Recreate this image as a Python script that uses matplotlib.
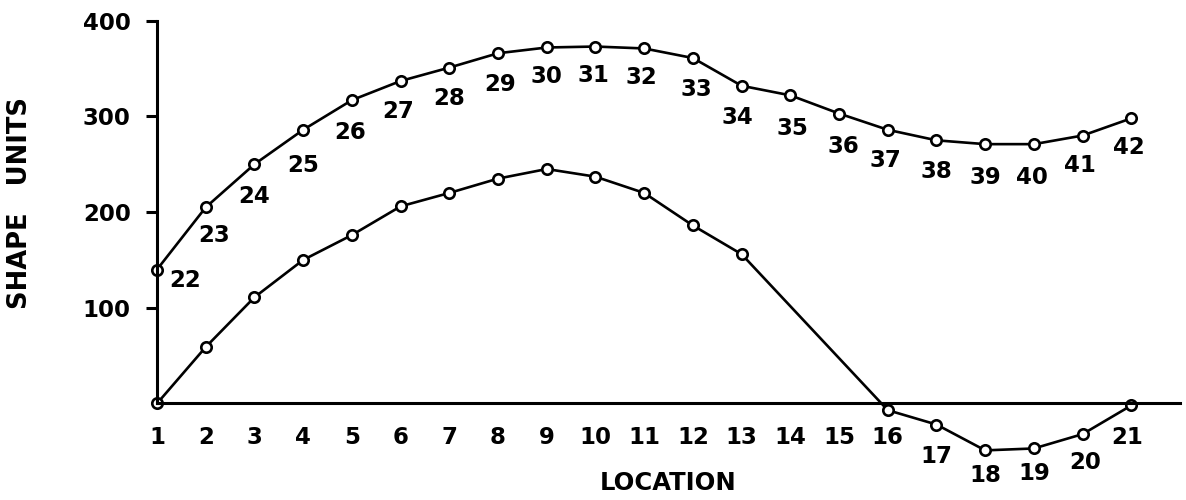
import matplotlib
matplotlib.use("Agg")
import matplotlib.pyplot as plt
import numpy as np

# shape units by location; upper curve carries point numbers 22-42
locations = np.arange(1, 22)
upper_shape = [140, 205, 250, 286, 317, 337, 351, 366, 372, 373, 371,
               361, 332, 322, 303, 286, 275, 271, 271, 280, 298]
upper_ids = list(range(22, 43))

# lower curve has no readings at locations 14 and 15
lower_locs = [1, 2, 3, 4, 5, 6, 7, 8, 9, 10, 11, 12, 13, 16, 17, 18, 19, 20, 21]
lower_shape = [0, 59, 111, 150, 176, 206, 220, 235, 245, 237, 220,
               186, 156, -7, -22, -49, -47, -32, -2]

y_ticks = [100, 200, 300, 400]

# label offsets in pixels (dx, dy)
upper_offsets = [(28, -11), (8, -28), (0, -32), (0, -36), (-2, -32), (-2, -31),
                 (0, -31), (2, -31), (0, -29), (-2, -29), (-3, -29), (3, -31),
                 (-4, -32), (2, -33), (4, -33), (-2, -31), (0, -31), (0, -33),
                 (-2, -33), (-3, -30), (-2, -29)]
lower_offsets = {16: (0, -27), 17: (0, -32), 18: (0, -25), 19: (0, -25),
                 20: (3, -28), 21: (-4, -32)}

FONT = {"family": "DejaVu Sans", "weight": "bold", "size": 16.5}

fig = plt.figure(figsize=(11.86, 5.0), dpi=100)
ax = fig.add_axes([0.1324, 0.0782, 0.8626, 0.8804])
ax.set_xlim(1, 22)
ax.set_ylim(-60, 400)

line_kw = dict(color="black", linewidth=1.9, marker="o", markersize=7.5,
               markerfacecolor="white", markeredgecolor="black",
               markeredgewidth=1.9, clip_on=False, zorder=2)
ax.plot(locations, upper_shape, **line_kw)
ax.plot(lower_locs, lower_shape, **line_kw)

for loc, val, pid, off in zip(locations, upper_shape, upper_ids, upper_offsets):
    ax.annotate(str(pid), (loc, val), xytext=off, textcoords="offset pixels",
                ha="center", va="center", **FONT)

lower_lookup = dict(zip(lower_locs, lower_shape))
for loc in locations:
    base = min(lower_lookup.get(loc, 0), 0)
    off = lower_offsets.get(loc, (0, -34))
    ax.annotate(str(loc), (loc, base), xytext=off, textcoords="offset pixels",
                ha="center", va="center", annotation_clip=False, **FONT)

for side in ("top", "right"):
    ax.spines[side].set_visible(False)
ax.spines["left"].set_bounds(0, 400)
ax.spines["left"].set_linewidth(2.2)
ax.spines["bottom"].set_position(("data", 0))
ax.spines["bottom"].set_linewidth(2.2)

ax.set_xticks([])
ax.set_yticks(y_ticks)
ax.set_yticklabels([str(t) for t in y_ticks], **FONT)
ax.tick_params(axis="y", direction="out", length=8, width=2.2, pad=11)

ax.set_xlabel("LOCATION", family="DejaVu Sans", weight="bold", size=17.5)
ax.xaxis.label.set_va("center")
ax.xaxis.set_label_coords(0.5, -0.05)
ax.set_ylabel("SHAPE   UNITS", family="DejaVu Sans", weight="bold", size=18.5)
ax.yaxis.label.set_va("center")
ax.yaxis.set_label_coords(-0.134, 0.587)

fig.savefig("out.png", dpi=100, facecolor="white")
